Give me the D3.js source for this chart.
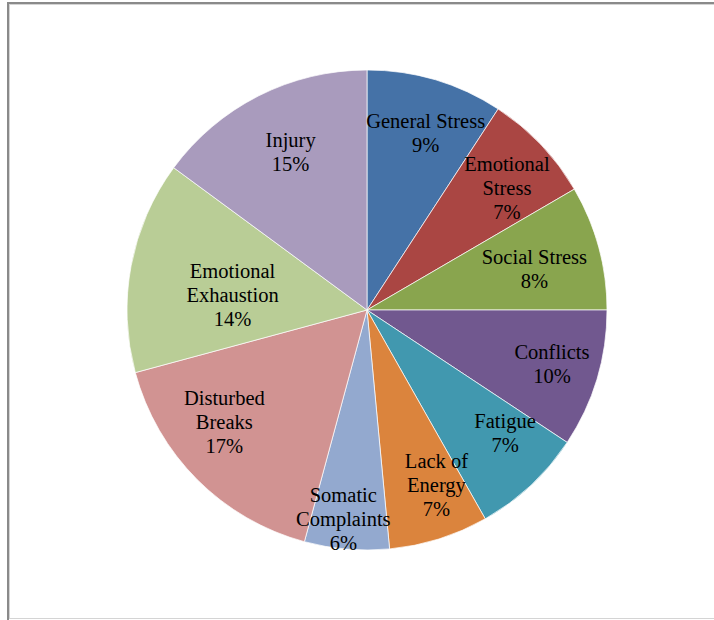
<!DOCTYPE html>
<html lang="en">
<head>
  <meta charset="UTF-8" />
  <title>Stress Factors Pie</title>
  <style>
    body {
      margin: 0;
      background: #ffffff;
    }
    svg {
      display: block;
    }
    .label {
      font-family: "Liberation Serif", "Times New Roman", serif;
      font-size: 20.5px;
      fill: #000000;
    }
  </style>
  <script src="https://d3js.org/d3.v7.min.js"></script>
</head>
<body>
  <svg id="canvas" width="714" height="620"></svg>

  <script>
    // data (shares in %, clockwise from 12 o'clock)
    const categories = [
      "General Stress", "Emotional Stress", "Social Stress", "Conflicts", "Fatigue",
      "Lack of Energy", "Somatic Complaints", "Disturbed Breaks", "Emotional Exhaustion", "Injury"
    ];
    const values = [9.2, 7.4, 8.4, 9.3, 7.5, 6.7, 5.7, 16.6, 14.3, 14.9];
    const percentLabels = ["9%", "7%", "8%", "10%", "7%", "7%", "6%", "17%", "14%", "15%"];
    // how the category names wrap inside the slices
    const nameLines = [
      ["General Stress"], ["Emotional", "Stress"], ["Social Stress"], ["Conflicts"], ["Fatigue"],
      ["Lack of", "Energy"], ["Somatic", "Complaints"], ["Disturbed", "Breaks"], ["Emotional", "Exhaustion"], ["Injury"]
    ];
    const colors = [
      "#4572a7", "#aa4643", "#89a54e", "#71588f", "#4198af",
      "#db843d", "#93a9cf", "#d19392", "#b9cd96", "#a99bbd"
    ];

    const svg = d3.select("#canvas");
    const cx = 367, cy = 310, radius = 240;
    const lineH = 24;

    // chart frame (darker edge top/left)
    svg.append("rect")
      .attr("x", 9.5).attr("y", 4.5)
      .attr("width", 720).attr("height", 614)
      .attr("fill", "none")
      .attr("stroke", "#d4d4d4")
      .attr("stroke-width", 1);
    svg.append("line")
      .attr("x1", 8).attr("y1", 3).attr("x2", 714).attr("y2", 3)
      .attr("stroke", "#8a8a8a").attr("stroke-width", 2);
    svg.append("line")
      .attr("x1", 8).attr("y1", 2).attr("x2", 8).attr("y2", 620)
      .attr("stroke", "#8a8a8a").attr("stroke-width", 2);

    const pie = d3.pie().sort(null).value(d => d);
    const arcs = pie(values);

    const arc = d3.arc().innerRadius(0).outerRadius(radius);

    const g = svg.append("g").attr("transform", `translate(${cx},${cy})`);

    g.selectAll("path.slice")
      .data(arcs)
      .join("path")
      .attr("class", "slice")
      .attr("d", arc)
      .attr("fill", (d, i) => colors[i])
      .attr("stroke", "#ffffff")
      .attr("stroke-width", 0.7);

    // Excel "best fit" pulls a couple of labels in or out
    const labelFactor = i => {
      if (categories[i] === "Emotional Exhaustion") return 0.57;
      if (categories[i] === "Somatic Complaints") return 0.87;
      return 0.77;
    };
    // small hand nudges so labels sit where Excel put them
    const labelNudge = {
      "General Stress": [6, 0],
      "Emotional Stress": [6, 5],
      "Social Stress": [-11, 7],
      "Conflicts": [8, 1],
      "Fatigue": [12, -12],
      "Lack of Energy": [14, -1],
      "Somatic Complaints": [-6, 1],
      "Disturbed Breaks": [-12, -19],
      "Emotional Exhaustion": [0, 10],
      "Injury": [7, 7]
    };

    arcs.forEach((d, i) => {
      const r = radius * labelFactor(i);
      const c = d3.arc().innerRadius(r).outerRadius(r).centroid(d);
      const nudge = labelNudge[categories[i]] || [0, 0];
      const lx = c[0] + nudge[0];
      const ly = c[1] + nudge[1];
      const lines = nameLines[i].concat([percentLabels[i]]);
      const firstBase = ly - (lines.length - 1) * lineH / 2 + 7;
      const t = g.append("text")
        .attr("class", "label")
        .attr("text-anchor", "middle");
      lines.forEach((s, k) => {
        t.append("tspan")
          .attr("x", lx)
          .attr("y", firstBase + k * lineH)
          .text(s);
      });
    });
  </script>
</body>
</html>
